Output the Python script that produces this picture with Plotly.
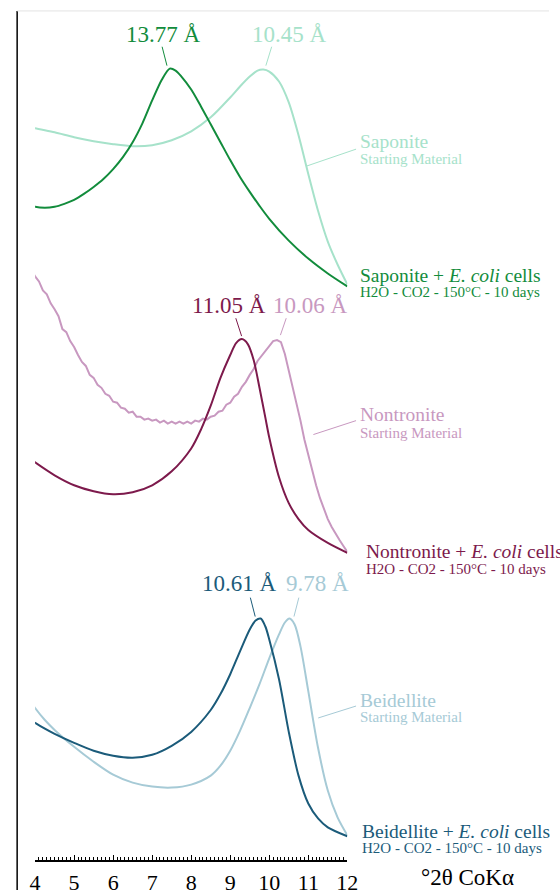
import plotly.graph_objects as go

# ---- data (2-theta CoKa, offset intensity in screen units; larger = lower on chart) ----
sap_ecoli_x = [3.93, 4.0, 4.25, 4.5, 4.75, 5.0, 5.25, 5.5, 5.75, 6.0, 6.25, 6.5, 6.75, 7.0, 7.25, 7.45,
               7.6, 7.75, 8.0, 8.25, 8.5, 8.75, 9.0, 9.25, 9.5, 9.75, 10.0, 10.5, 11.0, 11.5, 12.0]
sap_ecoli_y = [207, 208, 209, 208, 205, 201, 195, 188, 180, 170, 158, 143, 124, 101, 80, 69,
               71, 77, 90, 107, 125, 143, 161, 178, 193, 207, 220, 242, 260, 275, 288]

sap_start_x = [3.93, 4.0, 4.5, 5.0, 5.5, 6.0, 6.5, 7.0, 7.5, 8.0, 8.5, 9.0, 9.25, 9.5, 9.7, 9.85,
               10.0, 10.25, 10.5, 10.75, 11.0, 11.25, 11.5, 11.75, 12.0]
sap_start_y = [128, 129, 133, 138, 142, 145, 147, 146, 141, 132, 118, 98, 87, 77, 71, 70,
               72, 82, 103, 136, 175, 212, 243, 266, 286]

non_ecoli_x = [3.93, 4.0, 4.5, 5.0, 5.5, 6.0, 6.5, 7.0, 7.5, 8.0, 8.25, 8.5, 8.75, 9.0, 9.15, 9.3,
               9.45, 9.6, 9.75, 9.9, 10.0, 10.25, 10.5, 10.75, 11.0, 11.5, 12.0]
non_ecoli_y = [463, 465, 478, 488, 494, 497, 495, 488, 474, 451, 432, 408, 380, 357, 345, 341,
               346, 362, 390, 420, 440, 480, 506, 522, 533, 546, 556]

non_start_x = [3.93] + [round(4.0 + 0.1 * i, 1) for i in range(81)]
non_start_y = [273,
               278, 283, 292, 296, 305, 311, 318, 331, 334, 343,
               349, 357, 364, 368, 377, 380, 387, 390, 396, 398,
               404, 405, 410, 411, 415, 414, 419, 419, 422, 421,
               423, 422, 425, 423, 426, 424, 426, 424, 426, 424,
               426, 423, 424, 421, 422, 419, 418, 414, 413, 407,
               405, 399, 396, 389, 384, 377, 371, 363, 358, 352,
               347, 343, 342, 344, 356, 372, 389, 406, 423, 442,
               458, 474, 488, 501, 512, 522, 530, 537, 543, 549,
               555]

bei_ecoli_x = [3.93, 4.0, 4.5, 5.0, 5.5, 6.0, 6.5, 7.0, 7.5, 8.0, 8.5, 8.75, 9.0, 9.25, 9.5, 9.65,
               9.78, 9.9, 10.0, 10.25, 10.5, 10.75, 11.0, 11.25, 11.5, 12.0]
bei_ecoli_y = [725, 727, 738, 747, 755, 760, 762, 759, 750, 736, 714, 698, 678, 655, 633, 624,
               622, 630, 643, 683, 736, 780, 808, 823, 832, 841]

bei_start_x = [3.93, 4.0, 4.25, 4.5, 5.0, 5.5, 6.0, 6.5, 7.0, 7.5, 8.0, 8.5, 8.75, 9.0, 9.25, 9.5,
               9.75, 10.0, 10.25, 10.4, 10.52, 10.65, 10.8, 11.0, 11.25, 11.5, 11.75, 12.0]
bei_start_y = [708, 712, 724, 734, 751, 766, 779, 787, 791, 792, 789, 780, 770, 755, 735, 712,
               688, 662, 638, 626, 622, 628, 650, 695, 752, 795, 822, 840]

tick_vals = [4, 5, 6, 7, 8, 9, 10, 11, 12]
tick_text = ["4", "5", "6", "7", "8", "9", "10", "11", "12"]

C_SAP, C_SAP_L = "#128c3c", "#a6e2ca"
C_NON, C_NON_L = "#7d1a4c", "#c898c0"
C_BEI, C_BEI_L = "#1b5b7a", "#a6cad6"
FONT = "Liberation Serif, Times New Roman, serif"

W, H = 560, 895


def px(x):
    return x / W


def py(y):
    return 1 - y / H


fig = go.Figure()

series = [
    (sap_start_x, sap_start_y, C_SAP_L, "spline"),
    (sap_ecoli_x, sap_ecoli_y, C_SAP, "spline"),
    (non_start_x, non_start_y, C_NON_L, "linear"),
    (non_ecoli_x, non_ecoli_y, C_NON, "spline"),
    (bei_start_x, bei_start_y, C_BEI_L, "spline"),
    (bei_ecoli_x, bei_ecoli_y, C_BEI, "spline"),
]
for xs, ys, col, shp in series:
    fig.add_trace(go.Scatter(x=xs, y=ys, mode="lines", cliponaxis=False,
                             line=dict(color=col, width=2, shape=shp, smoothing=0.8),
                             hoverinfo="skip", showlegend=False))

annotations = []


def add_text(x, y, text, color, size, anchor="center"):
    annotations.append(dict(x=px(x), y=py(y), xref="paper", yref="paper", text=text,
                            showarrow=False, xanchor=anchor, yanchor="middle",
                            font=dict(family=FONT, size=size, color=color)))


PEAK, MAIN, SUB = 23, 19.5, 15

# peak labels
add_text(162, 35, "13.77 Å", C_SAP, PEAK)
add_text(292, 35, "10.45 Å", C_SAP_L, PEAK)
add_text(230, 307, "11.05 Å", C_NON, PEAK)
add_text(314, 307, "10.06 Å", C_NON_L, PEAK)
add_text(241, 587, "10.61 Å", C_BEI, PEAK)
add_text(321, 587, "9.78 Å", C_BEI_L, PEAK)

# sample labels
add_text(363, 142, "Saponite", C_SAP_L, MAIN, "left")
add_text(363, 160, "Starting Material", C_SAP_L, SUB, "left")
add_text(363, 277, "Saponite + <i>E. coli</i> cells", C_SAP, MAIN, "left")
add_text(363, 294, "H2O - CO2 - 150°C - 10 days", C_SAP, SUB, "left")

add_text(363, 417, "Nontronite", C_NON_L, MAIN, "left")
add_text(363, 435, "Starting Material", C_NON_L, SUB, "left")
add_text(369, 555, "Nontronite + <i>E. coli</i> cells", C_NON, MAIN, "left")
add_text(369, 572, "H2O - CO2 - 150°C - 10 days", C_NON, SUB, "left")

add_text(363, 704, "Beidellite", C_BEI_L, MAIN, "left")
add_text(363, 721, "Starting Material", C_BEI_L, SUB, "left")
add_text(365, 836, "Beidellite + <i>E. coli</i> cells", C_BEI, MAIN, "left")
add_text(365, 853, "H2O - CO2 - 150°C - 10 days", C_BEI, SUB, "left")

add_text(476, 882, "°2θ CoKα", "#000000", 23)

shapes = []


def add_line(x0, y0, x1, y1, color, width=1):
    shapes.append(dict(type="line", xref="paper", yref="paper", x0=px(x0), y0=py(y0),
                       x1=px(x1), y1=py(y1), line=dict(color=color, width=width)))


# leader lines
add_line(161, 47, 166, 66, C_SAP)
add_line(274, 47, 268, 66, C_SAP_L)
add_line(237, 320, 243, 338, C_NON)
add_line(289, 320, 283, 337, C_NON_L)
add_line(252, 601, 257, 620, C_BEI)
add_line(302, 601, 297, 620, C_BEI_L)
add_line(310, 167, 361, 150, C_SAP_L)
add_line(317, 437, 361, 423, C_NON_L)
add_line(322, 722, 361, 710, C_BEI_L)

# frame
add_line(11.5, 11, 11.5, 895, "#000000", 1.5)
add_line(11.5, 11, 560, 11, "#e3e3e3", 1)

fig.update_layout(
    width=W, height=H,
    margin=dict(l=0, r=0, t=0, b=0),
    paper_bgcolor="white", plot_bgcolor="rgba(0,0,0,0)",
    yaxis=dict(range=[H, 0], visible=False, domain=[0, 1], fixedrange=True),
    xaxis=dict(range=[4, 12], domain=[px(30), px(352)], anchor="free", position=py(866),
               showline=True, linecolor="#000000", linewidth=1.5,
               ticks="inside", ticklen=5, tickwidth=1.3, tickcolor="#000000",
               tickvals=tick_vals, ticktext=tick_text, showgrid=False, zeroline=False,
               ticklabelstandoff=2, fixedrange=True,
               tickfont=dict(family=FONT, size=22, color="#000000"),
               minor=dict(dtick=0.1, tick0=4, ticks="inside", ticklen=3, tickwidth=0.8,
                          tickcolor="#000000", showgrid=False)),
    annotations=annotations,
    shapes=shapes,
)

fig.write_html(
    "out.html",
    config={"displayModeBar": False},
    post_script="document.body.style.margin='0';document.documentElement.style.overflow='hidden';document.body.style.overflow='hidden';",
)
